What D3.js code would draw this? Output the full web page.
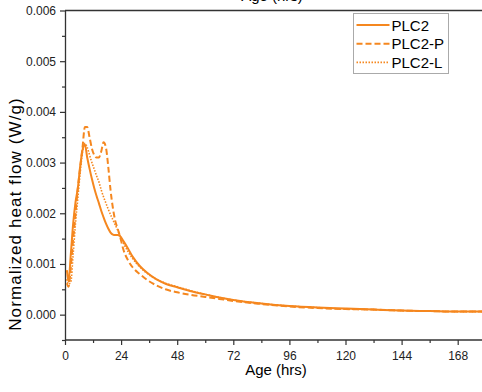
<!DOCTYPE html>
<html>
<head>
<meta charset="utf-8">
<script src="https://cdn.jsdelivr.net/npm/d3@7"></script>
<style>
  body { margin: 0; background: #fff; }
  svg { display: block; font-family: Arial, "Liberation Sans", sans-serif; }
</style>
</head>
<body>
<div class="chartWrapper"></div>
<script>
// age grid shared by all three series (hrs)
const ageHrs = [0.8, 1.5, 2.5, 3.5, 4.5, 5.5, 6.5, 7.5, 8.5, 9.5, 10.5, 11.5, 12.5, 13.5, 14.5, 15.5,
  16.5, 17.5, 18.5, 19.5, 20.5, 21.5, 22.5, 23.5, 25, 27, 29, 32, 35, 39, 43, 48, 54, 60, 66, 72,
  84, 96, 108, 120, 132, 144, 156, 168, 180];

const plc2 = [0.00088, 0.00066, 0.0012, 0.0018, 0.00222, 0.0025, 0.00293, 0.00325, 0.00336, 0.0031,
  0.00288, 0.00268, 0.0025, 0.00234, 0.0022, 0.00205, 0.00192, 0.0018, 0.0017, 0.00162, 0.00158,
  0.00157, 0.00157, 0.00155, 0.00145, 0.0013, 0.00114, 0.00096, 0.00083, 0.0007, 0.00061, 0.00054,
  0.00046, 0.0004, 0.00034, 0.00029, 0.00022, 0.00017, 0.00014, 0.00012, 0.0001, 0.00008, 0.00007,
  0.00006, 0.00006];

const plc2P = [0.00062, 0.00055, 0.00095, 0.0015, 0.002, 0.0025, 0.0029, 0.0033, 0.0037, 0.0037,
  0.0035, 0.00328, 0.00315, 0.0031, 0.0031, 0.00322, 0.0034, 0.0033, 0.00292, 0.00245, 0.0021,
  0.00185, 0.0017, 0.00155, 0.00128, 0.00107, 0.00093, 0.0008, 0.00069, 0.00058, 0.0005, 0.00044,
  0.00039, 0.00035, 0.00031, 0.00027, 0.00021, 0.00016, 0.00013, 0.00011, 0.0001, 0.00008, 0.00007,
  0.00006, 0.00006];

const plc2L = [0.0007, 0.0006, 0.00065, 0.0012, 0.0018, 0.0023, 0.0028, 0.0032, 0.00338, 0.0033,
  0.00315, 0.003, 0.00287, 0.00274, 0.00262, 0.00246, 0.00232, 0.0022, 0.00208, 0.00197, 0.00187,
  0.00177, 0.00167, 0.00156, 0.00141, 0.00124, 0.0011, 0.00094, 0.00082, 0.0007, 0.00062, 0.00055,
  0.00047, 0.0004, 0.00034, 0.00029, 0.00022, 0.00017, 0.00014, 0.00011, 0.0001, 0.00008, 0.00007,
  0.00006, 0.00006];

const seriesNames = ["PLC2", "PLC2-P", "PLC2-L"];
const xTicks = [0, 24, 48, 72, 96, 120, 144, 168];
const yTicks = [0, 0.001, 0.002, 0.003, 0.004, 0.005, 0.006];

const W = 482, H = 392;
const orange = "#f5871f";

var svg = d3.select(".chartWrapper").append("svg")
  .attr("width", W)
  .attr("height", H);

const xScale = d3.scaleLinear().domain([0, 180]).range([65, 65 + 180 * 56.1 / 24]);
const yScale = d3.scaleLinear().domain([-0.0005, 0.006]).range([340, 10.5]);

// frame line along the top
svg.append("line")
  .attr("x1", xScale(0)).attr("x2", W + 5)
  .attr("y1", yScale(0.006)).attr("y2", yScale(0.006))
  .attr("stroke", "#333").attr("stroke-width", 1.3);

// minor ticks
svg.append("g")
  .attr("transform", "translate(0," + yScale(-0.0005) + ")")
  .call(d3.axisBottom(xScale).tickValues(d3.range(12, 180, 24)).tickSize(3).tickFormat(""))
  .call(g => g.select(".domain").remove())
  .selectAll("line").attr("stroke", "#333").attr("stroke-width", 1.2);

svg.append("g")
  .attr("transform", "translate(" + xScale(0) + ",0)")
  .call(d3.axisLeft(yScale).tickValues(d3.range(-0.0005, 0.006, 0.001)).tickSize(3).tickFormat(""))
  .call(g => g.select(".domain").remove())
  .selectAll("line").attr("stroke", "#333").attr("stroke-width", 1.2);

// major axes
const xAxis = svg.append("g")
  .attr("transform", "translate(0," + yScale(-0.0005) + ")")
  .call(d3.axisBottom(xScale).tickValues(xTicks).tickSize(5).tickPadding(6).tickSizeOuter(0));

const yAxis = svg.append("g")
  .attr("transform", "translate(" + xScale(0) + ",0)")
  .call(d3.axisLeft(yScale).tickValues(yTicks).tickSize(5).tickPadding(4).tickSizeOuter(0)
    .tickFormat(d3.format(".3f")));

[xAxis, yAxis].forEach(a => {
  a.select(".domain").attr("stroke", "#333").attr("stroke-width", 1.3);
  a.selectAll(".tick line").attr("stroke", "#333").attr("stroke-width", 1.2);
  a.selectAll(".tick text").attr("fill", "#222").style("font-size", "12px")
    .style("font-family", "Arial, 'Liberation Sans', sans-serif");
});
xAxis.select(".domain").attr("d", "M" + xScale(0) + ",0H" + (W + 5));

// axis titles
svg.append("text")
  .attr("x", 276).attr("y", 375)
  .attr("text-anchor", "middle")
  .style("font-size", "15px")
  .text("Age (hrs)");

// top title, mostly cut off by the top edge as in the source
svg.append("text")
  .attr("x", 272).attr("y", 0.5)
  .attr("text-anchor", "middle")
  .style("font-size", "15px")
  .text("Age (hrs)");

svg.append("text")
  .attr("transform", "translate(21,214) rotate(-90)")
  .attr("text-anchor", "middle")
  .style("font-size", "17px")
  .style("letter-spacing", "1.1px")
  .text("Normalized heat flow (W/g)");

// series
const styles = [
  { dash: null, width: 2 },
  { dash: "6,3", width: 2 },
  { dash: "1.5,1.5", width: 1.6 }
];
const values = [plc2, plc2P, plc2L];

const line = d3.line()
  .x((d) => xScale(d[0]))
  .y((d) => yScale(d[1]))
  .curve(d3.curveMonotoneX);

const plot = svg.append("g");
values.forEach((vals, i) => {
  plot.append("path")
    .datum(ageHrs.map((t, j) => [t, vals[j]]))
    .attr("fill", "none")
    .attr("stroke", orange)
    .attr("stroke-width", styles[i].width)
    .attr("stroke-dasharray", styles[i].dash)
    .attr("d", line);
});

// legend
const legend = svg.append("g").attr("transform", "translate(353.5,13.5)");
legend.append("rect")
  .attr("width", 95).attr("height", 60)
  .attr("fill", "#fff").attr("stroke", "#aaa").attr("stroke-width", 1);

seriesNames.forEach((name, i) => {
  const y = 11.5 + i * 18.7;
  legend.append("line")
    .attr("x1", 3).attr("x2", 36).attr("y1", y).attr("y2", y)
    .attr("stroke", orange)
    .attr("stroke-width", styles[i].width)
    .attr("stroke-dasharray", styles[i].dash);
  legend.append("text")
    .attr("x", 38).attr("y", y + 5.5)
    .style("font-size", "15px")
    .text(name);
});
</script>
</body>
</html>
